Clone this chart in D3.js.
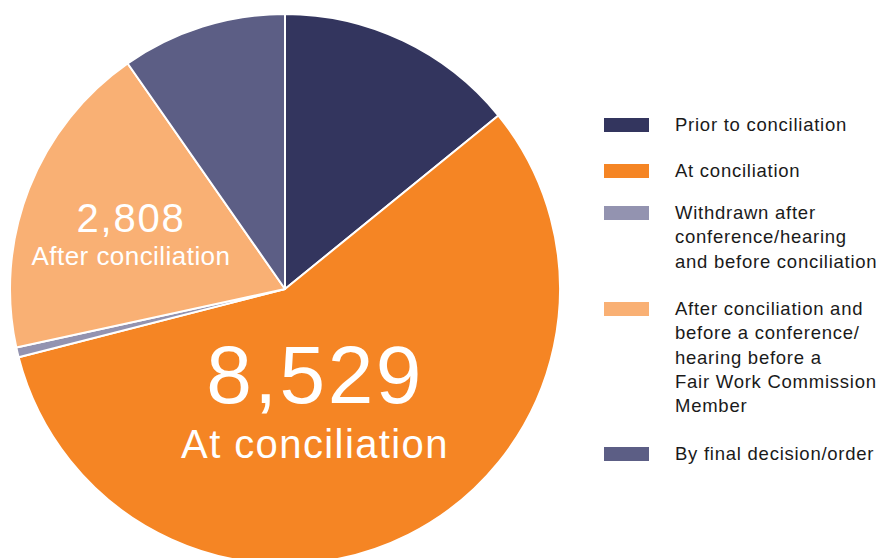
<!DOCTYPE html>
<html><head><meta charset="utf-8">
<script src="https://cdn.jsdelivr.net/npm/d3@7"></script>
<style>body{margin:0;background:#fff;}svg{display:block;font-family:"Liberation Sans",Arial,sans-serif;}</style>
</head><body>
<svg id="c" width="883" height="558"></svg>
<script>
const categories = ["Prior to conciliation","At conciliation","Withdrawn after conference/hearing and before conciliation","After conciliation and before a conference/hearing before a Fair Work Commission Member","By final decision/order"];
const values = [2121, 8529, 87, 2808, 1454];
const colors = ["#33355e","#f58524","#9393b0","#f9b074","#5c5e85"];
const legendLines = [["Prior to conciliation"],["At conciliation"],["Withdrawn after","conference/hearing","and before conciliation"],["After conciliation and","before a conference/","hearing before a","Fair Work Commission","Member"],["By final decision/order"]];
const sliceLabels = [null, ["8,529","At conciliation"], null, ["2,808","After conciliation"], null];

const svg = d3.select("#c");
const cx = 285, cy = 289, r = 275;
const pie = d3.pie().sort(null).value(d => d)(values);
const arc = d3.arc().innerRadius(0).outerRadius(r);
const g = svg.append("g").attr("transform", `translate(${cx},${cy})`);
g.selectAll("path").data(pie).join("path")
  .attr("d", arc).attr("fill", (d,i) => colors[i])
  .attr("stroke", "#fff").attr("stroke-width", 2).attr("stroke-linejoin","round");

// big labels
const lab1 = g.append("text").attr("fill","#fff").attr("text-anchor","middle");
lab1.append("tspan").attr("x", 30).attr("y", 114).attr("font-size", 82).attr("letter-spacing", 2.5).text(sliceLabels[1][0]);
lab1.append("tspan").attr("x", 30).attr("y", 169).attr("font-size", 40).attr("letter-spacing", 1.4).text(sliceLabels[1][1]);
const lab3 = g.append("text").attr("fill","#fff").attr("text-anchor","middle");
lab3.append("tspan").attr("x", -154).attr("y", -57).attr("font-size", 40).attr("letter-spacing", 1.8).text(sliceLabels[3][0]);
lab3.append("tspan").attr("x", -154).attr("y", -24).attr("font-size", 26).attr("letter-spacing", 0.45).text(sliceLabels[3][1]);

// legend
const rowY = [125, 171, 213, 309, 454];
const lg = svg.append("g");
categories.forEach((c,i) => {
  lg.append("rect").attr("x",604).attr("y",rowY[i]-7).attr("width",45).attr("height",14).attr("fill",colors[i]);
  const t = lg.append("text").attr("fill","#1a1a1a").attr("font-size",18.5).attr("letter-spacing",0.75);
  legendLines[i].forEach((ln,j) => {
    t.append("tspan").attr("x",675).attr("y",rowY[i]+6+j*24.3).text(ln);
  });
});
</script>
</body></html>
